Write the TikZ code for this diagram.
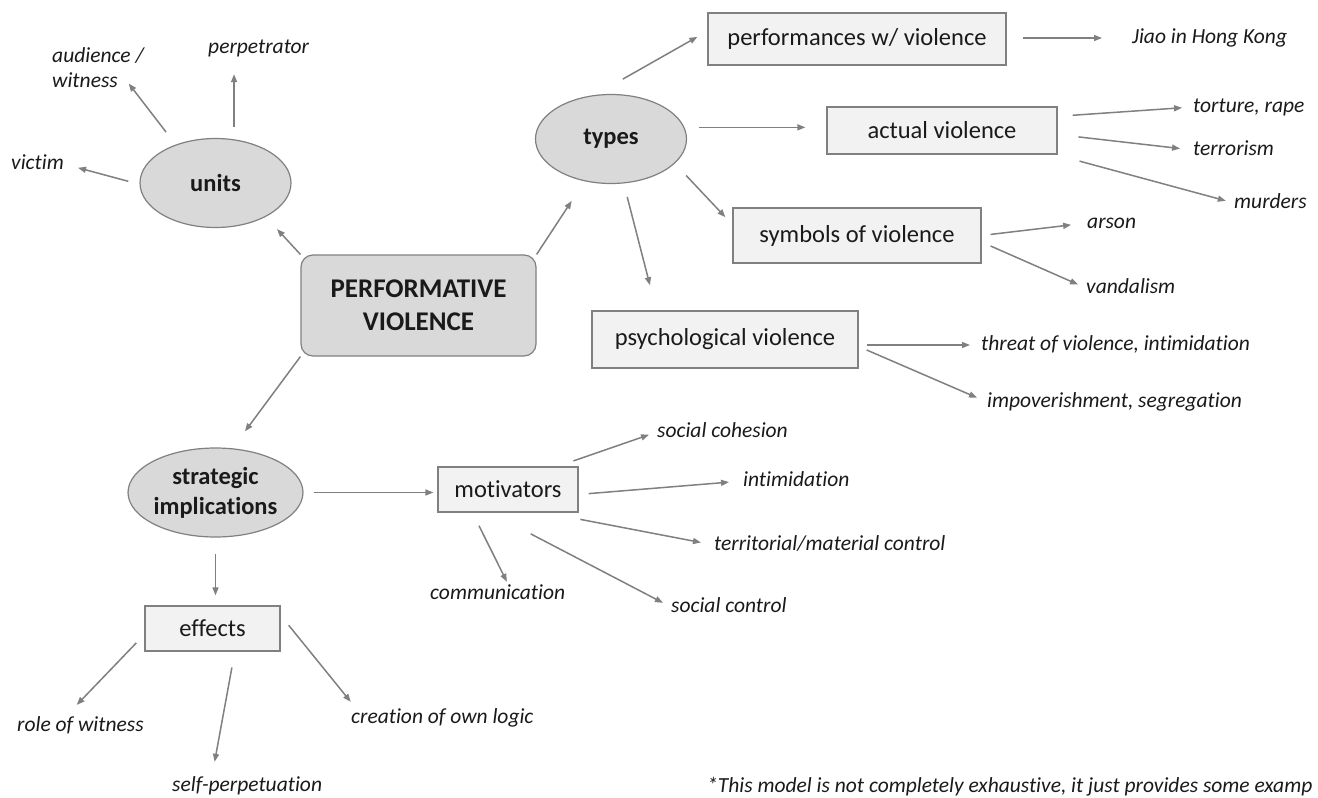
\documentclass[tikz,border=0pt]{standalone}
\usepackage{fontspec}
\setmainfont{Carlito}[Ligatures=NoCommon]
\usetikzlibrary{shapes.geometric,arrows.meta}
\definecolor{edge}{HTML}{808080}
\definecolor{ovalgray}{HTML}{D9D9D9}
\definecolor{boxgray}{HTML}{F2F2F2}
\definecolor{ink}{HTML}{1A1A1A}

\begin{document}
\begin{tikzpicture}[x=1pt,y=-1pt,
    oval/.style={ellipse,draw=edge,line width=1.2pt,fill=ovalgray,inner sep=0pt,minimum width=151pt,minimum height=89pt,align=center,text=ink,font=\bfseries\fontsize{24.5}{30}\selectfont},
    box/.style={rectangle,draw=edge,line width=1.2pt,fill=boxgray,inner sep=0pt,text=ink,font=\fontsize{24.5}{29}\selectfont},
    lbl/.style={inner sep=0pt,anchor=west,text height=16pt,text depth=5pt,text=ink,font=\itshape\fontsize{21.5}{25}\selectfont},
    arr/.style={draw=edge,line width=1.5pt,-{Triangle[length=8pt,width=6pt]}}]
    \useasboundingbox (0,0) rectangle (1318,798);
    \fill[white] (0,0) rectangle (1318,798);
    % core and the three branches
    \node[box,rounded corners=12pt,fill=ovalgray,minimum width=235pt,minimum height=101pt,align=center,font=\bfseries\fontsize{27}{33}\selectfont] (pv) at (418.5,305.5) {PERFORMATIVE\\VIOLENCE};
    \node[oval] (units) at (215.5,183) {units};
    \node[oval] (types) at (611,139) {types};
    \node[oval] (strat) at (215.5,492.5) {strategic\\implications};
    % kinds of violence
    \node[box,minimum width=298pt,minimum height=52pt] (perf) at (857,39) {performances w/ violence};
    \node[box,minimum width=230pt,minimum height=47pt] (actual) at (942,130.5) {actual violence};
    \node[box,minimum width=248pt,minimum height=55pt] (symb) at (857,235.5) {symbols of violence};
    \node[box,minimum width=266pt,minimum height=57pt] (psych) at (725,339.5) {psychological violence};
    \node[box,minimum width=140pt,minimum height=45pt] (motiv) at (508,489.5) {motivators};
    \node[box,minimum width=135pt,minimum height=45pt] (effects) at (212.5,628.5) {effects};
    % leaf labels
    \node[lbl] (perp) at (208,48) {perpetrator};
    \node[lbl,text height=,text depth=,align=left,anchor=north west] (aud) at (52,47) {audience /\\witness};
    \node[lbl] (victim) at (11,164) {victim};
    \node[lbl] (jiao) at (1132,38) {Jiao in Hong Kong};
    \node[lbl] (torture) at (1193,107) {torture, rape};
    \node[lbl] (terror) at (1193,150) {terrorism};
    \node[lbl] (murders) at (1234,203) {murders};
    \node[lbl] (arson) at (1087,223) {arson};
    \node[lbl] (vandal) at (1086,288) {vandalism};
    \node[lbl] (threat) at (981,345) {threat of violence, intimidation};
    \node[lbl] (impov) at (987,402) {impoverishment, segregation};
    \node[lbl] (cohes) at (657,432) {social cohesion};
    \node[lbl] (intim) at (743,481) {intimidation};
    \node[lbl] (territ) at (714,545) {territorial/material control};
    \node[lbl] (sctrl) at (671,607) {social control};
    \node[lbl] (comm) at (430,594) {communication};
    \node[lbl] (role) at (17,726) {role of witness};
    \node[lbl] (selfp) at (172,786) {self-perpetuation};
    \node[lbl] (creat) at (351,718) {creation of own logic};
    \node[lbl] (note) at (707,787) {*This model is not completely exhaustive, it just provides some examp};
    % arrows from the core
    \draw[arr,shorten >=16.6pt] (pv.north west) -- (units.-34);
    \draw[arr,shorten >=23.5pt] (pv.north east) -- (types.-122);
    \draw[arr,shorten >=21pt] (pv.south west) -- (strat.69);
    % units
    \draw[arr,shorten <=11.5pt,shorten >=14.5pt] (units.181) -- (victim.east);
    \draw[arr,shorten <=15.8pt,shorten >=-5pt] (units.136) -- (aud.-31);
    \draw[arr,shorten <=12.4pt,shorten >=15.5pt] (units.67) -- (units.67 |- perp.south);
    % types
    \draw[arr,shorten <=32pt,shorten >=11.5pt] (types.110) -- (perf.177);
    \draw[arr,shorten <=16pt,shorten >=30pt] (jiao.west -| perf.east) -- (jiao.west);
    \draw[arr,shorten <=14pt,shorten >=21pt] (types.9) -- (types.9 -| actual.west);
    \draw[arr,shorten <=15pt,shorten >=11pt] (actual.7) -- (torture.west);
    \draw[arr,shorten <=21pt,shorten >=13pt] (actual.-2) -- (terror.west);
    \draw[arr,shorten <=25pt,shorten >=8.5pt] (actual.-12) -- (murders.west);
    \draw[arr,shorten <=16.4pt,shorten >=10.2pt] (types.-21) -- (symb.175);
    \draw[arr,shorten <=9pt,shorten >=16pt] (symb.east) -- (arson.west);
    \draw[arr,shorten <=9.8pt,shorten >=8.7pt] (symb.-3) -- (vandal.west);
    \draw[arr,shorten <=13.9pt,shorten >=26pt] (types.-74) -- (psych.157);
    \draw[arr,shorten <=8pt,shorten >=11pt] (threat.west -| psych.east) -- (threat.west);
    \draw[arr,shorten <=8.7pt,shorten >=10.9pt] (psych.-3) -- (impov.west);
    % strategic implications
    \draw[arr,shorten <=10pt,shorten >=4pt] (strat.east) -- (strat.east -| motiv.west);
    \draw[arr,shorten <=16pt,shorten >=10pt] (strat.south) -- (strat.south |- effects.north);
    \draw[arr,shorten <=16.8pt,shorten >=8.4pt] (motiv.25) -- (cohes.west);
    \draw[arr,shorten <=10pt,shorten >=14pt] (motiv.-4) -- (intim.west);
    \draw[arr,shorten <=36pt,shorten >=13.3pt] (motiv.-32) -- (territ.west);
    \draw[arr,shorten <=45.9pt,shorten >=9pt] (motiv.-128) -- (sctrl.west);
    \draw[arr,shorten <=14.6pt,shorten >=1.7pt] (motiv.-147) -- (comm.47);
    \draw[arr,shorten <=11.7pt,shorten >=14.4pt] (effects.-175) -- (role.142);
    \draw[arr,shorten <=16.2pt,shorten >=13.7pt] (effects.-46) -- (selfp.163);
    \draw[arr,shorten <=12.8pt,shorten >=7pt] (effects.11) -- (creat.173);
\end{tikzpicture}
\end{document}
